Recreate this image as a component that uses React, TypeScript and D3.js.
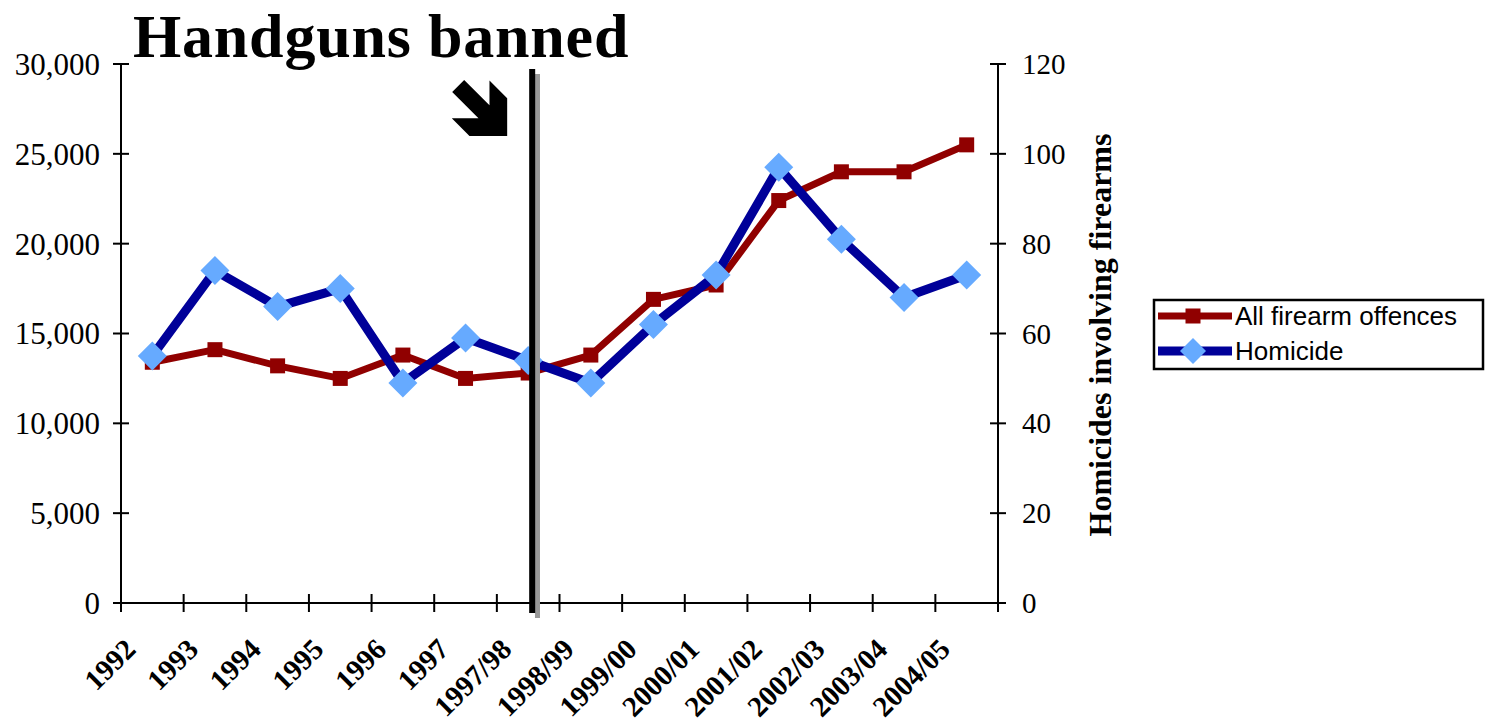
import React from "react";
import * as d3 from "d3";

const categories = ["1992", "1993", "1994", "1995", "1996", "1997", "1997/98", "1998/99", "1999/00", "2000/01", "2001/02", "2002/03", "2003/04", "2004/05"];
const firearmOffences = [13400, 14100, 13200, 12500, 13800, 12500, 12800, 13800, 16900, 17700, 22400, 24000, 24000, 25500];
const homicides = [55, 74, 66, 70, 49, 59, 54, 49, 62, 73, 97, 81, 68, 73];
const leftTicks = [0, 5000, 10000, 15000, 20000, 25000, 30000];
const rightTicks = [0, 20, 40, 60, 80, 100, 120];
const seriesNames = ["All firearm offences", "Homicide"];
const annotationText = "Handguns banned";
const rightAxisTitle = "Homicides involving firearms";
const banCategory = "1997/98";

const W = 1485;
const H = 724;
const plotLeft = 121;
const plotRight = 998;
const plotTop = 64;
const plotBottom = 603;

const RED = "#900000";
const NAVY = "#000099";
const LIGHT = "#66AAFF";
const SERIF = "'Liberation Serif', 'Times New Roman', serif";
const SANS = "'Liberation Sans', Arial, sans-serif";

export default function App() {
  const x = d3.scaleBand<string>().domain(categories).range([plotLeft, plotRight]).paddingInner(0).paddingOuter(0);
  const cx = (c: string) => (x(c) as number) + x.bandwidth() / 2;
  const yL = d3.scaleLinear().domain([0, 30000]).range([plotBottom, plotTop]);
  const yR = d3.scaleLinear().domain([0, 120]).range([plotBottom, plotTop]);
  const fmt = d3.format(",");

  const redLine = d3.line<number>().x((_, i) => cx(categories[i])).y((d) => yL(d))(firearmOffences) as string;
  const blueLine = d3.line<number>().x((_, i) => cx(categories[i])).y((d) => yR(d))(homicides) as string;

  const boundaries = categories.map((c) => x(c) as number).concat([plotRight]);

  const banX = cx(banCategory);

  // Heavy arrow pointing down-right (L-shaped head with a diagonal shaft)
  const tipX = banX - 21;
  const tipY = 136;
  const arm = 17.7;
  const side = 37.7;
  const rel: [number, number][] = [
    [0, 0], [0, -side], [-arm, -side - arm], [-arm, -30.7], [-43, -56], [-55, -44], [-28.7, -arm], [-55.4, -arm], [-37.7, 0],
  ];
  const arrowPath = d3.line()(rel.map(([dx, dy]) => [tipX + dx, tipY + dy] as [number, number])) + "Z";

  const diamond = (px: number, py: number, r: number) => `M${px},${py - r}L${px + r},${py}L${px},${py + r}L${px - r},${py}Z`;

  return (
    <svg width={W} height={H} style={{ position: "absolute", left: 0, top: 0, background: "#fff" }}>
      <rect x={0} y={0} width={W} height={H} fill="#fff" />
      {/* Axes */}
      <line x1={plotLeft} x2={plotLeft} y1={plotTop} y2={plotBottom} stroke="#000" strokeWidth={2} />
      <line x1={plotRight} x2={plotRight} y1={plotTop} y2={plotBottom} stroke="#000" strokeWidth={2} />
      <line x1={plotLeft} x2={plotRight + 2} y1={plotBottom} y2={plotBottom} stroke="#000" strokeWidth={2} />
      {leftTicks.map((v) => (
        <g key={"l" + v}>
          <line x1={plotLeft - 8} x2={plotLeft + 8} y1={yL(v)} y2={yL(v)} stroke="#000" strokeWidth={2} />
          <text x={100} y={yL(v)} dy="0.35em" textAnchor="end" fontFamily={SERIF} fontSize={31} fill="#000">{fmt(v)}</text>
        </g>
      ))}
      {rightTicks.map((v) => (
        <g key={"r" + v}>
          <line x1={plotRight - 8} x2={plotRight + 8} y1={yR(v)} y2={yR(v)} stroke="#000" strokeWidth={2} />
          <text x={1022} y={yR(v)} dy="0.35em" textAnchor="start" fontFamily={SERIF} fontSize={29} fill="#000">{v}</text>
        </g>
      ))}
      {boundaries.map((bx, i) => (
        <line key={"xt" + i} x1={bx} x2={bx} y1={plotBottom - 9} y2={plotBottom + 9} stroke="#000" strokeWidth={2} />
      ))}
      {categories.map((cat) => (
        <text key={"xl" + cat} transform={`translate(${cx(cat) - 15},651) rotate(-45)`} textAnchor="end" fontFamily={SERIF} fontWeight="bold" fontSize={29} fill="#000">{cat}</text>
      ))}
      <text transform={`translate(1111,335) rotate(-90)`} textAnchor="middle" fontFamily={SERIF} fontWeight="bold" fontSize={32} fill="#000">{rightAxisTitle}</text>

      {/* Series */}
      <path d={redLine} fill="none" stroke={RED} strokeWidth={7} strokeLinejoin="round" />
      {firearmOffences.map((v, i) => (
        <rect key={"sq" + i} x={cx(categories[i]) - 7.5} y={yL(v) - 7.5} width={15} height={15} fill={RED} />
      ))}
      <path d={blueLine} fill="none" stroke={NAVY} strokeWidth={9} strokeLinejoin="round" />
      {homicides.map((v, i) => (
        <path key={"dm" + i} d={diamond(cx(categories[i]), yR(v), 14.5)} fill={LIGHT} />
      ))}

      {/* Ban marker */}
      <rect x={banX + 6.8} y={74} width={5} height={544} fill="#999" />
      <rect x={banX + 1} y={69} width={6} height={544} fill="#000" />
      <path d={arrowPath} fill="#000" />
      <text x={133} y={57} fontFamily={SERIF} fontWeight="bold" fontSize={62} letterSpacing={0.8} fill="#000">{annotationText}</text>

      {/* Legend */}
      <rect x={1154} y={300} width={329} height={69} fill="#fff" stroke="#000" strokeWidth={2.5} />
      <line x1={1158} x2={1232} y1={316} y2={316} stroke={RED} strokeWidth={7} />
      <rect x={1193 - 7.5} y={316 - 7.5} width={15} height={15} fill={RED} />
      <text x={1235} y={316} dy="0.35em" fontFamily={SANS} fontSize={26} fill="#000">{seriesNames[0]}</text>
      <line x1={1158} x2={1232} y1={351} y2={351} stroke={NAVY} strokeWidth={9} />
      <path d={diamond(1193, 351, 13)} fill={LIGHT} />
      <text x={1235} y={351} dy="0.35em" fontFamily={SANS} fontSize={26} fill="#000">{seriesNames[1]}</text>
    </svg>
  );
}
